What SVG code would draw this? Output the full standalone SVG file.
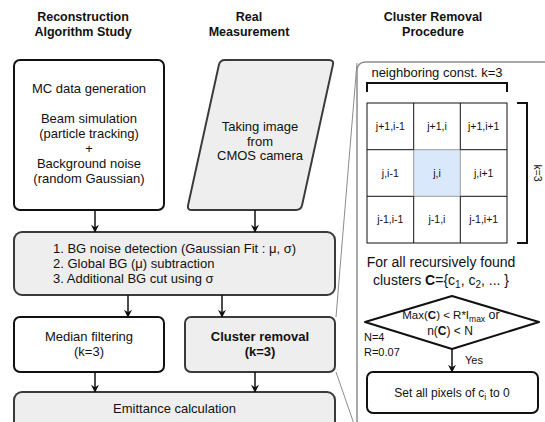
<svg xmlns="http://www.w3.org/2000/svg" width="545" height="422" viewBox="0 0 545 422">
  <style>
    text { font-family: "Liberation Sans", Arial, Helvetica, sans-serif; fill: #111; }
    .hdr { font-size: 12.5px; font-weight: bold; text-anchor: middle; }
    .t13 { font-size: 13px; text-anchor: middle; }
    .t14 { font-size: 14px; text-anchor: middle; }
    .lft { font-size: 13px; }
    .cell { font-size: 10.5px; text-anchor: middle; }
    .sm { font-size: 11px; }
    .box-w { fill: #ffffff; stroke: #111; stroke-width: 2; }
    .box-g { fill: #eeeeee; stroke: #3a3a3a; stroke-width: 2; }
    .edge { stroke: #111; stroke-width: 1.5; fill: none; marker-end: url(#arrow); }
    .callout { stroke: #8c8c8c; stroke-width: 1; fill: none; }
    .grid { fill: #ffffff; stroke: #111; stroke-width: 1; }
    .bracket { fill: none; stroke: #111; stroke-width: 2; }
  </style>
  <defs>
    <marker id="arrow" viewBox="0 0 10 10" refX="9" refY="5" markerWidth="8" markerHeight="8" markerUnits="userSpaceOnUse" orient="auto">
      <path d="M0,0 L10,5 L0,10 L3,5 Z" fill="#111"/>
    </marker>
  </defs>

  <rect width="545" height="422" fill="#ffffff"/>

  <!-- column headings -->
  <g id="headings">
    <text class="hdr" x="83" y="21">Reconstruction</text>
    <text class="hdr" x="83" y="36">Algorithm Study</text>
    <text class="hdr" x="249" y="21">Real</text>
    <text class="hdr" x="249" y="36">Measurement</text>
    <text class="hdr" x="433" y="21">Cluster Removal</text>
    <text class="hdr" x="433" y="36">Procedure</text>
  </g>

  <!-- detail panel for cluster removal, with callout lines -->
  <g id="detail-panel">
    <rect x="357" y="62" width="210" height="380" rx="8" fill="#ffffff" stroke="#8c8c8c" stroke-width="1.5"/>
  </g>
  <g id="callout-lines">
    <line class="callout" x1="357" y1="63" x2="336" y2="317"/>
    <line class="callout" x1="336" y1="372" x2="357.5" y2="434"/>
  </g>

  <g id="mc-generation">
    <rect class="box-w" x="14" y="60" width="150" height="150" rx="6"/>
    <text class="t13" x="89" y="93">MC data generation</text>
    <text class="t13" x="89" y="123">Beam simulation</text>
    <text class="t13" x="89" y="138">(particle tracking)</text>
    <text class="t13" x="89" y="153">+</text>
    <text class="t13" x="89" y="168">Background noise</text>
    <text class="t13" x="89" y="183">(random Gaussian)</text>
  </g>

  <g id="cmos-image">
    <path class="box-g" d="M225,60 H329 Q334,60 332.9,64.9 L302.1,205.1 Q301,210 296,210 H192 Q187,210 188.1,205.1 L218.9,64.9 Q220,60 225,60 Z"/>
    <text class="t13" x="260" y="131">Taking image</text>
    <text class="t13" x="260" y="145.5">from</text>
    <text class="t13" x="260" y="160">CMOS camera</text>
  </g>

  <g id="bg-processing">
    <rect class="box-g" x="14" y="232" width="321" height="63" rx="8"/>
    <text class="lft" x="53" y="253">1. BG noise detection (Gaussian Fit : μ, σ)</text>
    <text class="lft" x="53" y="268">2. Global BG (μ) subtraction</text>
    <text class="lft" x="53" y="283">3. Additional BG cut using σ</text>
  </g>

  <g id="median-filtering">
    <rect class="box-w" x="14" y="317" width="150" height="55" rx="6"/>
    <text class="t13" x="89" y="341">Median filtering</text>
    <text class="t13" x="89" y="356">(k=3)</text>
  </g>

  <g id="cluster-removal">
    <rect class="box-g" x="185" y="317" width="150" height="55" rx="6"/>
    <text class="t13" x="260" y="341" font-weight="bold">Cluster removal</text>
    <text class="t13" x="260" y="356" font-weight="bold">(k=3)</text>
  </g>

  <g id="emittance">
    <rect class="box-g" x="14" y="392" width="321" height="45" rx="8"/>
    <text class="t13" x="174.5" y="412.5">Emittance calculation</text>
  </g>

  <!-- 3x3 neighbourhood grid -->
  <g id="neighbor-grid">
    <text class="t13" x="437" y="77">neighboring const. k=3</text>
    <path class="bracket" d="M367,92 V83 H507 V92"/>
    <rect class="grid" x="367" y="103" width="140" height="140"/>
    <rect x="413.7" y="149.7" width="46.6" height="46.6" fill="#dae8fc" stroke="#9a9a9a" stroke-width="1"/>
    <path d="M413.7,103 V149.7 M460.3,103 V149.7 M413.7,196.3 V243 M460.3,196.3 V243 M367,149.7 H413.7 M460.3,149.7 H507 M367,196.3 H413.7 M460.3,196.3 H507" stroke="#111" stroke-width="1" fill="none"/>
    <text class="cell" x="390.3" y="130">j+1,i-1</text>
    <text class="cell" x="437" y="130">j+1,i</text>
    <text class="cell" x="483.7" y="130">j+1,i+1</text>
    <text class="cell" x="390.3" y="176.7">j,i-1</text>
    <text class="cell" x="437" y="176.7">j,i</text>
    <text class="cell" x="483.7" y="176.7">j,i+1</text>
    <text class="cell" x="390.3" y="223.3">j-1,i-1</text>
    <text class="cell" x="437" y="223.3">j-1,i</text>
    <text class="cell" x="483.7" y="223.3">j-1,i+1</text>
    <path class="bracket" d="M517,103 H527 V243 H517"/>
    <text class="cell" x="0" y="0" transform="translate(534,173) rotate(90)">k=3</text>
  </g>

  <g id="cluster-loop">
    <text class="t14" x="441" y="267">For all recursively found</text>
    <text class="t14" x="441" y="285">clusters <tspan font-weight="bold">C</tspan>={c<tspan font-size="10" dy="3">1</tspan><tspan dy="-3">, c</tspan><tspan font-size="10" dy="3">2</tspan><tspan dy="-3">, ... }</tspan></text>
  </g>

  <g id="cluster-condition">
    <polygon points="365,322 452,296 539,322 452,349" fill="#ffffff" stroke="#111" stroke-width="2" stroke-linejoin="round"/>
    <text x="451" y="319" font-size="11.5" text-anchor="middle">Max(<tspan font-weight="bold">C</tspan>) &lt; R*I<tspan font-size="8.5" dy="3">max</tspan><tspan dy="-3" font-size="12.5"> or</tspan></text>
    <text x="450" y="335" font-size="12" text-anchor="middle">n(<tspan font-weight="bold">C</tspan>) &lt; N</text>
    <text class="sm" x="364" y="341">N=4</text>
    <text class="sm" x="364" y="356">R=0.07</text>
  </g>

  <g id="zero-pixels">
    <rect class="box-w" x="367" y="372" width="171" height="41" rx="6"/>
    <text x="452" y="397" font-size="12" text-anchor="middle">Set all pixels of c<tspan font-size="9" dy="2.5">i</tspan><tspan dy="-2.5"> to 0</tspan></text>
  </g>

  <!-- connectors -->
  <g id="connectors">
    <line class="edge" x1="95" y1="210" x2="95" y2="232"/>
    <line class="edge" x1="255" y1="210" x2="255" y2="232"/>
    <line class="edge" x1="128" y1="295" x2="128" y2="317"/>
    <line class="edge" x1="222" y1="295" x2="222" y2="317"/>
    <line class="edge" x1="95" y1="372" x2="95" y2="392"/>
    <line class="edge" x1="255" y1="372" x2="255" y2="392"/>
    <line class="edge" x1="452" y1="349" x2="452" y2="372"/>
    <text class="sm" x="465" y="364" font-size="12">Yes</text>
  </g>
</svg>
